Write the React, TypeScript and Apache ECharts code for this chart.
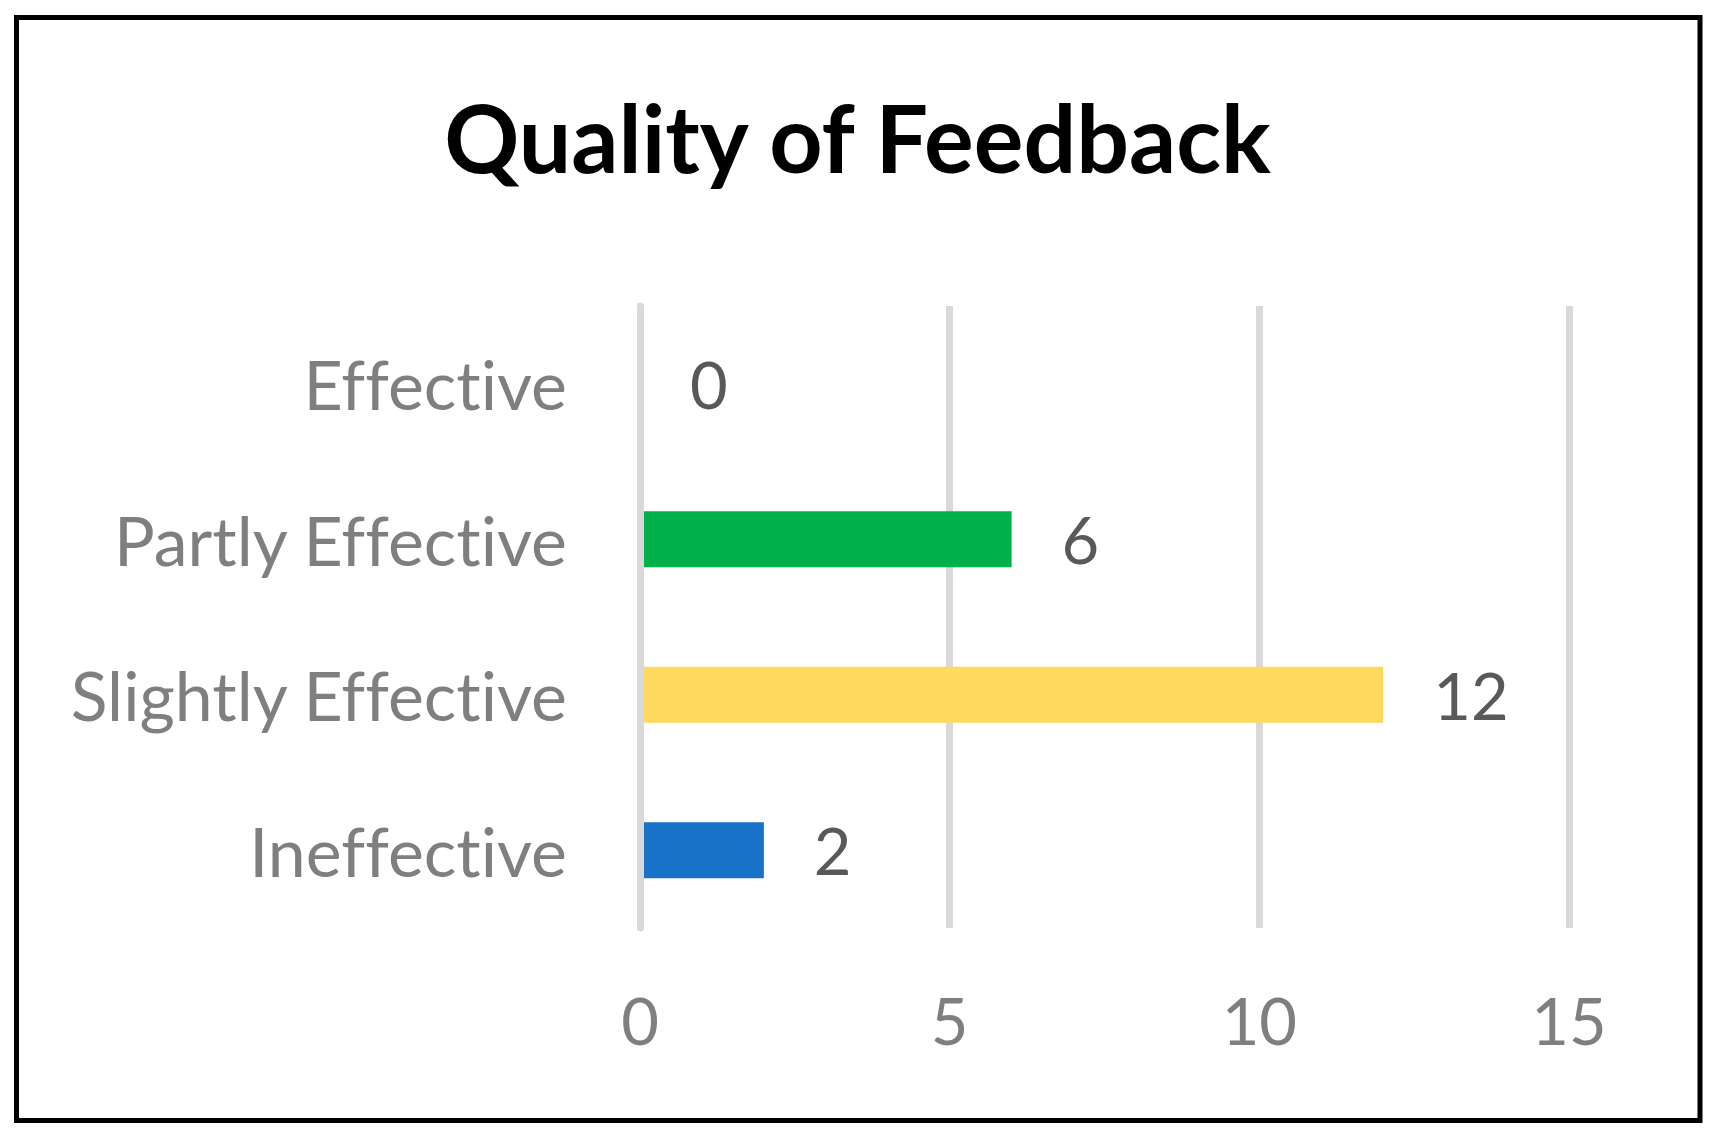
import React, { useEffect, useRef } from "react";
import * as echarts from "echarts";

const categories = ["Ineffective", "Slightly Effective", "Partly Effective", "Effective"];
const values = [2, 12, 6, 0];
const barColors = ["#1872C8", "#FFD95E", "#00B04A", "#00B04A"];
const xTicks = [0, 5, 10, 15];
const titleText = "Quality of Feedback";

const FONT = "Lato, 'Noto Sans', sans-serif";

export default function App() {
  const ref = useRef<HTMLDivElement>(null);
  useEffect(() => {
    document.body.style.margin = "0";
    const st = document.createElement("style");
    st.textContent =
      "svg text { font-variant-ligatures: none !important; font-feature-settings: 'liga' 0, 'clig' 0, 'dlig' 0 !important; }";
    document.head.appendChild(st);
    const chart = echarts.init(ref.current!, null, { renderer: "svg" });
    chart.setOption({
      animation: false,
      backgroundColor: "#ffffff",
      title: {
        text: titleText,
        left: "center",
        top: 82,
        textStyle: {
          fontFamily: FONT,
          fontWeight: "bold",
          fontSize: 93,
          lineHeight: 100,
          color: "#000000",
        },
      },
      graphic: [
        {
          type: "rect",
          shape: { x: 16.5, y: 17.5, width: 1683.5, height: 1103 },
          style: { fill: "none", stroke: "#000000", lineWidth: 5 },
          silent: true,
          z: 100,
        },
      ],
      grid: { left: 640, top: 306, width: 929, height: 622, containLabel: false },
      xAxis: {
        type: "value",
        min: xTicks[0],
        max: xTicks[xTicks.length - 1],
        interval: 5,
        axisLine: { show: false },
        axisTick: { show: false },
        splitLine: { show: true, lineStyle: { color: "#D9D9D9", width: 7 } },
        axisLabel: {
          color: "#7F7F7F",
          fontFamily: FONT,
          fontSize: 65,
          margin: 92,
          verticalAlign: "middle",
        },
      },
      yAxis: {
        type: "category",
        data: categories,
        z: 5,
        axisLine: { show: true, lineStyle: { color: "#D9D9D9", width: 7 } },
        axisTick: { show: false },
        axisLabel: {
          color: "#7F7F7F",
          fontFamily: FONT,
          fontSize: 68,
          margin: 73,
        },
      },
      series: [
        {
          type: "bar",
          data: values.map((v, i) => ({ value: v, itemStyle: { color: barColors[i] } })),
          barWidth: 56,
          label: {
            show: true,
            position: "right",
            distance: 50,
            color: "#595959",
            fontFamily: FONT,
            fontSize: 65,
          },
        },
      ],
    });
    return () => {
      chart.dispose();
      st.remove();
    };
  }, []);
  return <div ref={ref} style={{ width: 1715, height: 1139 }} />;
}
